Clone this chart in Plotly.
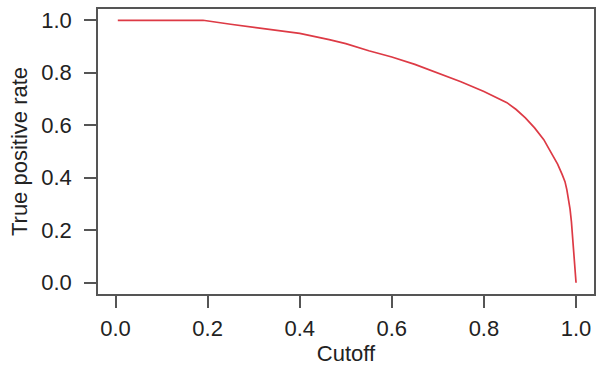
import plotly.graph_objects as go

# Cutoff (x) and true positive rate (y)
cutoff = [0.005, 0.19, 0.25, 0.30, 0.356, 0.40, 0.464, 0.50, 0.55, 0.60, 0.65,
          0.70, 0.75, 0.80, 0.83, 0.85, 0.87, 0.89, 0.91, 0.93, 0.94, 0.95,
          0.96, 0.97, 0.976, 0.98, 0.984, 0.987, 0.99, 0.993, 0.996, 0.999, 1.0]
tpr = [1.0, 1.0, 0.985, 0.974, 0.961, 0.950, 0.926, 0.911, 0.884, 0.860, 0.832,
       0.800, 0.766, 0.729, 0.705, 0.686, 0.660, 0.628, 0.590, 0.545, 0.514, 0.485,
       0.452, 0.412, 0.385, 0.355, 0.320, 0.280, 0.232, 0.170, 0.110, 0.040, 0.0]

tick_vals = [0.0, 0.2, 0.4, 0.6, 0.8, 1.0]
tick_text = ["0.0", "0.2", "0.4", "0.6", "0.8", "1.0"]

FONT = "Liberation Sans, Arial, Helvetica, sans-serif"
AX = "#555555"
TXT = "#222222"

fig = go.Figure()
fig.add_trace(go.Scatter(x=cutoff, y=tpr, mode="lines",
                         line=dict(color="#dd3a45", width=1.7),
                         showlegend=False, hoverinfo="x+y"))

axis_common = dict(
    showgrid=False, zeroline=False,
    showline=True, mirror=True, linecolor=AX, linewidth=1.5,
    ticks="outside", ticklen=12, tickwidth=1.5, tickcolor=AX,
    tickvals=tick_vals, ticktext=tick_text,
    tickfont=dict(family=FONT, size=22, color=TXT),
)

fig.update_layout(
    width=600, height=366,
    margin=dict(l=98, r=4, t=9, b=70),
    paper_bgcolor="white", plot_bgcolor="white",
    font=dict(family=FONT, size=22, color=TXT),
    xaxis=dict(range=[-0.038, 1.039],
               title=dict(text="Cutoff", font=dict(family=FONT, size=22, color=TXT), standoff=5),
               ticklabelstandoff=2,
               **axis_common),
    yaxis=dict(range=[-0.043, 1.043],
               title=dict(text="True positive rate", font=dict(family=FONT, size=22, color=TXT), standoff=8),
               ticklabelstandoff=8,
               **axis_common),
)

fig.write_html("out.html")
